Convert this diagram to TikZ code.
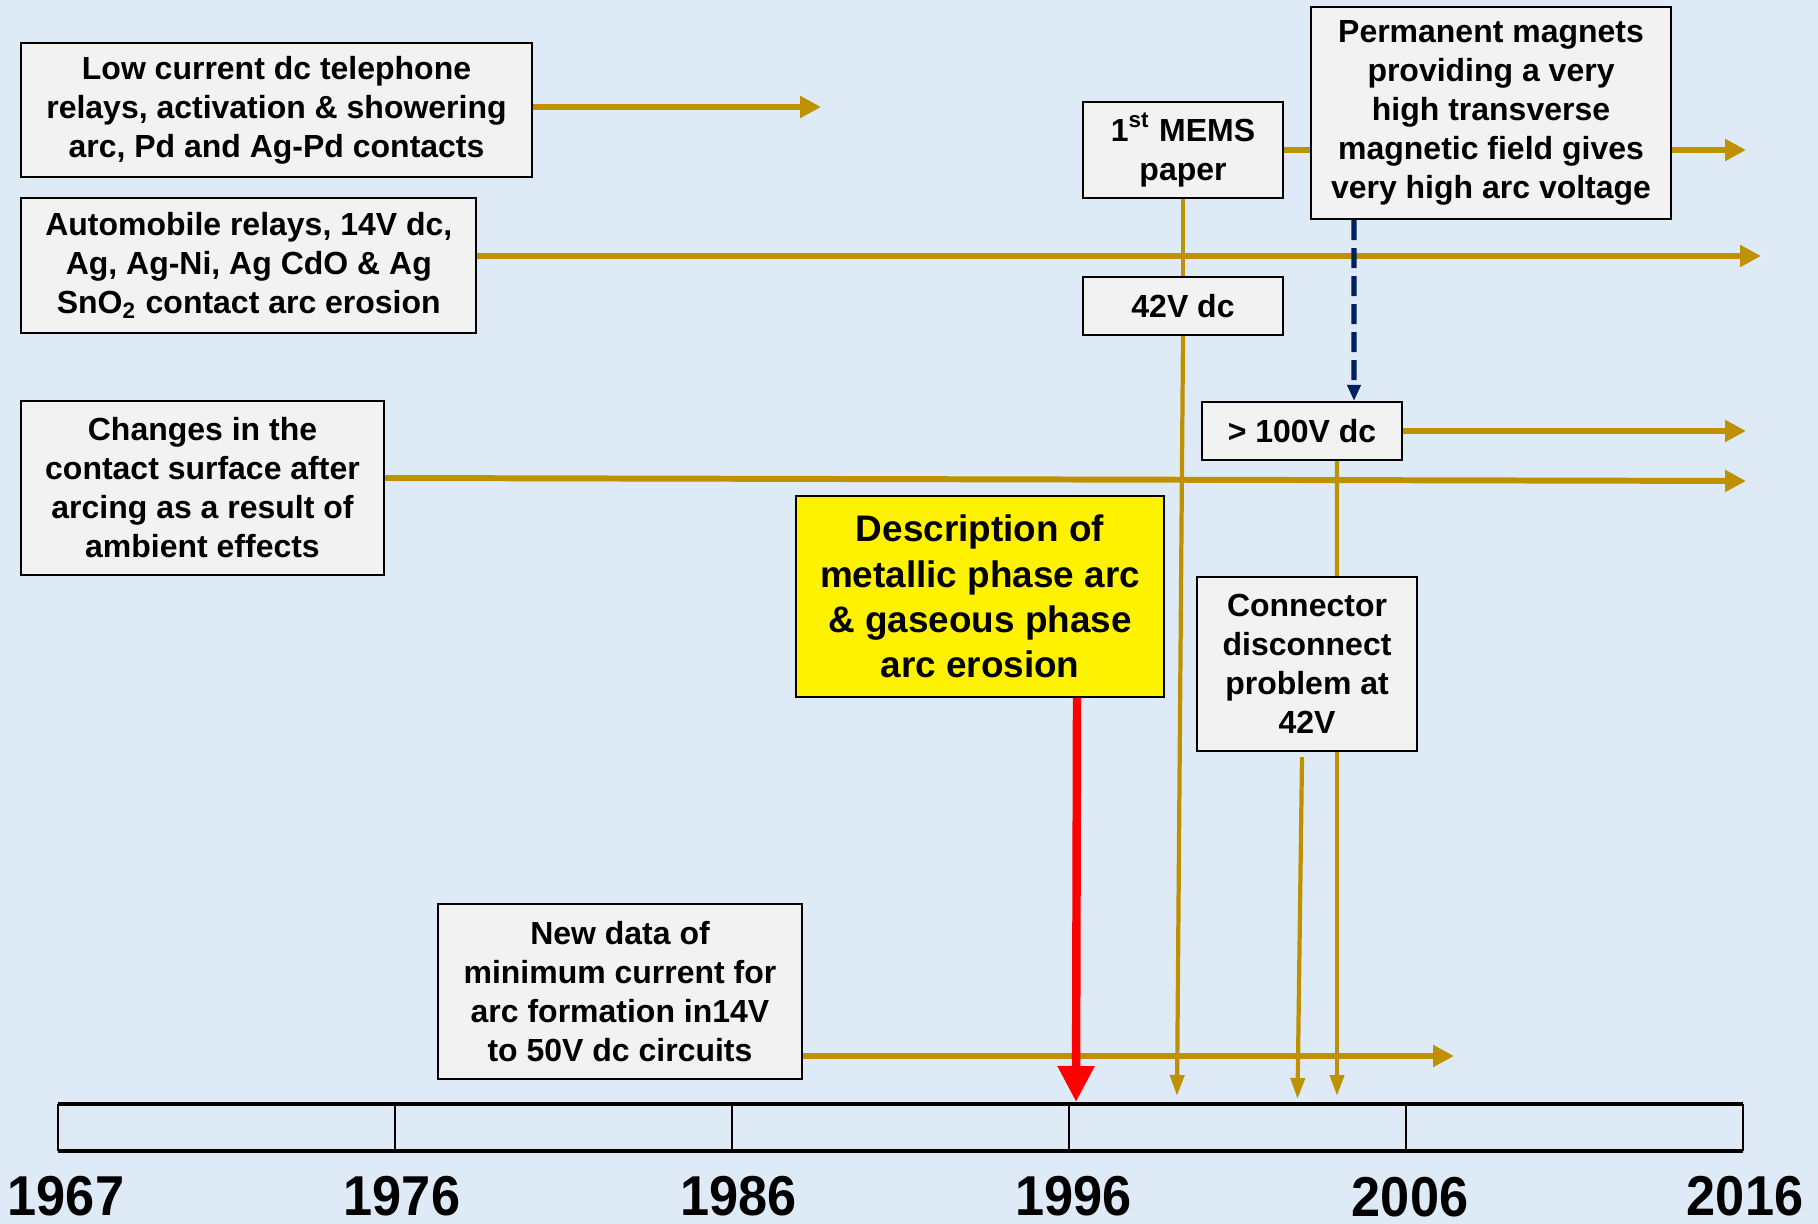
\documentclass[tikz,border=0pt]{standalone}
\usepackage{fontspec}
\setmainfont{Liberation Sans}
\usetikzlibrary{arrows.meta}
\definecolor{sky}{RGB}{222,235,247}
\definecolor{gold}{RGB}{191,144,0}
\definecolor{navy}{RGB}{0,32,96}
\definecolor{boxgray}{RGB}{242,242,242}

\begin{document}
\begin{tikzpicture}[x=0.1mm,y=-0.1mm,
    box/.style={draw=black,fill=boxgray,line width=0.6pt,align=center,inner sep=0pt,
        font=\bfseries\fontsize{9.1}{11.1}\selectfont},
    goldarrow/.style={draw=gold,line width=1.7pt,-{Triangle[length=2.1mm,width=2.1mm]}},
    goldline/.style={draw=gold,line width=1.2pt},
    golddrop/.style={draw=gold,line width=1.2pt,-{Triangle[length=2.1mm,width=1.4mm]}},
    year/.style={font=\bfseries\fontsize{16}{16}\selectfont,inner sep=0pt}]
    \fill[sky] (0,0) rectangle (1818,1224);
    \useasboundingbox (0,0) rectangle (1818,1224);

    % boxes
    \node[box,minimum width=51.1mm,minimum height=13.4mm] (low) at (276.5,110)
        {Low current dc telephone\\relays, activation \& showering\\arc, Pd and Ag-Pd contacts};
    \node[box,minimum width=45.5mm,minimum height=13.5mm] (auto) at (248.8,265.5)
        {Automobile relays, 14V dc,\\Ag, Ag-Ni, Ag CdO \& Ag\\SnO\textsubscript{2} contact arc erosion};
    \node[box,minimum width=36.3mm,minimum height=17.4mm] (chg) at (202.5,488)
        {Changes in the\\contact surface after\\arcing as a result of\\ambient effects};
    \node[box,minimum width=20.05mm,minimum height=9.6mm] (mems) at (1183,150)
        {1\textsuperscript{st} MEMS\\paper};
    \node[box,minimum width=36mm,minimum height=21.2mm] (perm) at (1491,113)
        {Permanent magnets\\providing a very\\high transverse\\magnetic field gives\\very high arc voltage};
    \node[box,minimum width=20.05mm,minimum height=5.8mm] (dc42) at (1183,306) {42V dc};
    \node[box,minimum width=20mm,minimum height=5.8mm] (hv) at (1302,431) {> 100V dc};
    \node[box,minimum width=22.05mm,minimum height=17.4mm] (conn) at (1307,664)
        {Connector\\disconnect\\problem at\\42V};
    \node[box,fill=yellow,minimum width=36.75mm,minimum height=20.1mm,
        font=\bfseries\fontsize{10.5}{12.9}\selectfont] (desc) at (980,596.5)
        {Description of\\metallic phase arc\\\& gaseous phase\\arc erosion};
    \node[box,minimum width=36.4mm,minimum height=17.5mm] (newd) at (620,991.5)
        {New data of\\minimum current for\\arc formation in14V\\to 50V dc circuits};

    % arrow ends
    \coordinate (e1) at (821,107);
    \coordinate (e2) at (1761,256);
    \coordinate (e3) at (1746,481);
    \coordinate (e4) at (1746,150);
    \coordinate (e5) at (1177,1096);
    \coordinate (e6) at (1746,431);
    \coordinate (e7) at (1337,1096);
    \coordinate (e8) at (1297.5,1099);
    \coordinate (e9) at (1076,1102);
    \coordinate (e10) at (1454,1056);

    \draw[goldarrow] (low.east |- e1) -- (e1);
    \draw[goldarrow] (auto.east |- e2) -- (e2);
    \draw[goldarrow] ([yshift=1mm]chg.east) -- (e3);
    \draw[draw=gold,line width=1.7pt] (mems.east) -- (mems.east -| perm.west);
    \draw[goldarrow] (perm.east |- e4) -- (e4);
    \draw[goldarrow] (hv.east) -- (e6);
    \draw[goldarrow] (newd.east |- e10) -- (e10);

    \draw[goldline] (mems.south) -- (dc42.north);
    \draw[golddrop] (dc42.south) -- (e5);
    \draw[goldline] ([xshift=3.5mm]hv.south) -- (e7 |- conn.north);
    \draw[golddrop] (e7 |- conn.south) -- (e7);
    \draw[golddrop] ([xshift=-0.5mm,yshift=-0.5mm]conn.south) -- (e8);

    \draw[navy,line width=1.5pt,dash pattern=on 2mm off 0.8mm,
        -{Triangle[length=1.6mm,width=1.3mm]}]
        ([xshift=-13.7mm]perm.south) -- ([xshift=5.2mm]hv.north);

    \draw[red,line width=2.4pt,-{Triangle[length=3.6mm,width=3.5mm]}]
        ([xshift=9.7mm]desc.south) -- (e9);

    % time axis
    \draw[line width=1pt] (58,1104) -- (1743,1104) (58,1151) -- (1743,1151);
    \foreach \i in {0,...,5}
        \draw[line width=0.5pt] (58+337*\i,1104) -- (58+337*\i,1151);
    \foreach \yr/\x/\y in {1967/66/1196,1976/402/1196,1986/738.5/1196,
                          1996/1073.6/1196,2006/1410/1197,2016/1745/1196}
        \node[year] (y\yr) at (\x,\y) {\scalebox{0.93}[1]{\yr}};
\end{tikzpicture}
\end{document}
